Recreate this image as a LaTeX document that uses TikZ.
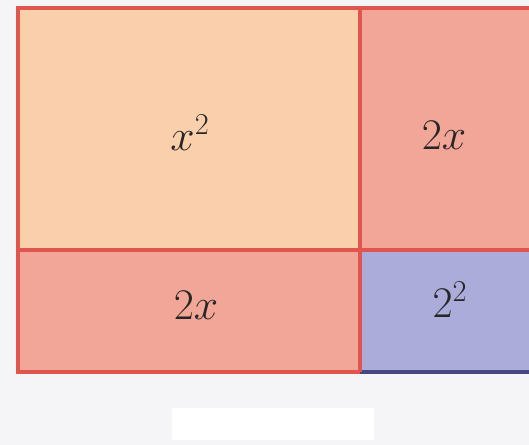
\documentclass[tikz,border=0pt]{standalone}
\usepackage{tikz}
\definecolor{peach}{RGB}{250,208,172}
\definecolor{rose}{RGB}{242,166,152}
\definecolor{lilac}{RGB}{172,172,218}
\definecolor{edgered}{RGB}{222,86,78}
\definecolor{edgeblue}{RGB}{70,72,130}
\definecolor{paper}{RGB}{245,245,248}
\tikzset{
  cell/.style={draw=edgered, line width=1.8pt, inner sep=0pt, outer sep=0pt},
  lbl/.style={font=\fontsize{24}{28}\selectfont, text=black!85},
}
\begin{document}
\begin{tikzpicture}[x=0.02cm,y=-0.02cm]
\useasboundingbox (0,0) rectangle (529,445);
\fill[paper] (0,0) rectangle (529,445);
\fill[white] (172,408) rectangle (374,440);

\node[cell, fill=peach, minimum width=342*0.02cm, minimum height=242*0.02cm] (sq) at (189,129) {};
\node[cell, fill=rose, minimum width=172*0.02cm, minimum height=242*0.02cm] (rt) at (446,129) {};
\node[cell, fill=rose, minimum width=342*0.02cm, minimum height=122*0.02cm] (lb) at (189,311) {};
\node[cell, fill=lilac, minimum width=172*0.02cm, minimum height=122*0.02cm] (rb) at (446,311) {};
\draw[edgeblue, line width=1.8pt] (rb.south west) -- (rb.south east);
\draw[edgered, line width=1.8pt] (rb.north west) -- (rb.south west);

\node[lbl] (xsq) at (190,133) {$x^2$};
\node[lbl] (tx1) at (444,135) {$2x$};
\node[lbl] (tx2) at (196,305) {$2x$};
\node[lbl] (two) at (450,300) {$2^2$};
\end{tikzpicture}
\end{document}
